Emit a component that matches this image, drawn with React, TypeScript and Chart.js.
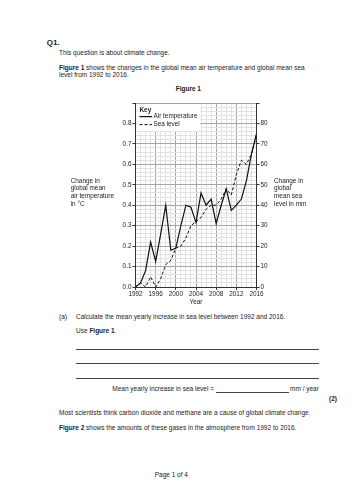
import React, { useEffect, useRef } from "react";
import { Chart, registerables } from "chart.js";

Chart.register(...registerables);

const years = [1992, 1993, 1994, 1995, 1996, 1997, 1998, 1999, 2000, 2001, 2002, 2003, 2004, 2005, 2006, 2007, 2008, 2009, 2010, 2011, 2012, 2013, 2014, 2015, 2016];
const airTemperature = [0.0, 0.02, 0.08, 0.22, 0.125, 0.26, 0.4, 0.18, 0.19, 0.3, 0.4, 0.39, 0.315, 0.46, 0.4, 0.43, 0.31, 0.4, 0.48, 0.375, 0.4, 0.43, 0.52, 0.65, 0.75];
const seaLevel = [0, 2, 0, 5, 0, 4, 11, 13, 19, 20, 24, 30, 32, 34, 38, 40, 40, 43, 48, 45, 55, 62, 60, 65, 74];
const seriesNames = ["Air temperature", "Sea level"];
const keyTitle = "Key";
const leftTitle = ["Change in", "global mean", "air temperature", "in °C"];
const rightTitle = ["Change in", "global", "mean sea", "level in mm"];
const xTitle = "Year";

const FONT = "'Liberation Sans', Arial, sans-serif";
const INK = "#222";
const MINOR = "#e2e2e2";
const MAJOR = "#a6a6a6";
const AXIS = "#333";
const CF = 6.4;

const isMult = (v: number, m: number) => Math.abs(v / m - Math.round(v / m)) < 1e-6;

const keyPlugin = {
  id: "keyBox",
  afterDatasetsDraw(chart: any) {
    const { ctx, chartArea } = chart;
    const l = chartArea.left;
    const t = chartArea.top;
    ctx.save();
    ctx.fillStyle = "#fff";
    ctx.fillRect(l + 1, t + 1, 64, 27);
    ctx.fillStyle = INK;
    ctx.textBaseline = "middle";
    ctx.textAlign = "left";
    ctx.font = `bold ${CF}px ${FONT}`;
    ctx.fillText(keyTitle, l + 4, t + 7);
    ctx.font = `${CF}px ${FONT}`;
    chart.data.datasets.forEach((ds: any, i: number) => {
      const y = t + 13.6 + i * 8;
      ctx.strokeStyle = ds.borderColor;
      ctx.lineWidth = ds.borderWidth;
      ctx.setLineDash(ds.borderDash || []);
      ctx.beginPath();
      ctx.moveTo(l + 4, y);
      ctx.lineTo(l + 16.5, y);
      ctx.stroke();
      ctx.setLineDash([]);
      ctx.fillText(ds.label, l + 18, y);
    });
    ctx.restore();
  },
};

const sideTitles = {
  id: "sideTitles",
  afterDraw(chart: any) {
    const { ctx, chartArea } = chart;
    ctx.save();
    ctx.fillStyle = INK;
    ctx.font = `${CF}px ${FONT}`;
    ctx.textBaseline = "middle";
    ctx.textAlign = "left";
    leftTitle.forEach((s, i) => ctx.fillText(s, chartArea.left - 64.8, chartArea.top + 78 + i * 7.7));
    rightTitle.forEach((s, i) => ctx.fillText(s, chartArea.right + 17.5, chartArea.top + 78 + i * 7.7));
    ctx.restore();
  },
};

function ChartBlock() {
  const ref = useRef<HTMLCanvasElement>(null);
  useEffect(() => {
    if (!ref.current) return;
    const tickFont = { family: FONT, size: CF };
    const chart = new Chart(ref.current, {
      type: "line",
      data: {
        datasets: [
          {
            label: seriesNames[0],
            data: years.map((x, i) => ({ x, y: airTemperature[i] })),
            borderColor: "#111",
            borderWidth: 1.2,
            pointRadius: 0,
            tension: 0,
            yAxisID: "y",
          },
          {
            label: seriesNames[1],
            data: years.map((x, i) => ({ x, y: seaLevel[i] })),
            borderColor: "#111",
            borderWidth: 1,
            borderDash: [3, 2],
            pointRadius: 0,
            tension: 0,
            yAxisID: "y1",
          },
        ],
      },
      options: {
        animation: false,
        responsive: true,
        maintainAspectRatio: false,
        layout: { padding: { top: 13, left: 0, right: 0, bottom: 0 } },
        plugins: { legend: { display: false }, tooltip: { enabled: false } },
        scales: {
          x: {
            type: "linear",
            min: 1992,
            max: 2016,
            afterFit: (s: any) => { s.height = 22; },
            ticks: {
              stepSize: 1,
              autoSkip: false,
              maxRotation: 0,
              padding: 0,
              color: INK,
              font: tickFont,
              callback: (v: any) => (isMult(Number(v) - 1992, 4) ? String(v) : ""),
            },
            grid: {
              color: (c: any) => (c.tick && isMult(c.tick.value - 1992, 4) ? MAJOR : MINOR),
              tickColor: (c: any) => (c.tick && isMult(c.tick.value - 1992, 4) ? AXIS : "rgba(0,0,0,0)"),
              tickLength: 3,
              lineWidth: 1,
            },
            border: { color: AXIS, width: 1 },
            title: { display: true, text: xTitle, color: INK, font: tickFont, padding: { top: 0, bottom: 2.7 } },
          },
          y: {
            type: "linear",
            position: "left",
            min: 0,
            max: 0.9,
            afterFit: (s: any) => { s.width = 135.5; },
            ticks: {
              stepSize: 0.02,
              autoSkip: false,
              padding: 1,
              color: INK,
              font: tickFont,
              callback: (v: any) => (isMult(Number(v), 0.1) && Number(v) < 0.85 ? Number(v).toFixed(1) : ""),
            },
            grid: {
              color: (c: any) => (c.tick && isMult(c.tick.value, 0.1) ? MAJOR : MINOR),
              tickColor: (c: any) => (c.tick && isMult(c.tick.value, 0.1) ? AXIS : "rgba(0,0,0,0)"),
              tickLength: 3,
              lineWidth: 1,
            },
            border: { color: AXIS, width: 1 },
          },
          y1: {
            type: "linear",
            position: "right",
            min: 0,
            max: 90,
            afterFit: (s: any) => { s.width = 96.5; },
            ticks: {
              stepSize: 2,
              autoSkip: false,
              padding: 1,
              color: INK,
              font: tickFont,
              callback: (v: any) => (isMult(Number(v), 10) && Number(v) < 85 ? String(v) : ""),
            },
            grid: {
              drawOnChartArea: false,
              tickColor: (c: any) => (c.tick && isMult(c.tick.value, 10) ? AXIS : "rgba(0,0,0,0)"),
              tickLength: 3,
            },
            border: { color: AXIS, width: 1 },
          },
        },
      },
      plugins: [keyPlugin, sideTitles],
    } as any);
    return () => chart.destroy();
  }, []);
  return (
    <div style={{ position: "absolute", left: 0, top: 90, width: 353, height: 219 }}>
      <canvas ref={ref} />
    </div>
  );
}

const T = (props: { x: number; y: number; size?: number; bold?: boolean; children: any }) => (
  <div
    style={{
      position: "absolute",
      left: props.x,
      top: props.y - 5,
      lineHeight: "10px",
      fontSize: (props.size || 6.5) + "px",
      fontWeight: props.bold ? "bold" : "normal",
      whiteSpace: "nowrap",
      color: INK,
    }}
  >
    {props.children}
  </div>
);

const Rule = (props: { x: number; y: number; w: number }) => (
  <div style={{ position: "absolute", left: props.x, top: props.y, width: props.w, height: 0, borderTop: "0.8px solid #444" }} />
);

export default function App() {
  return (
    <div style={{ position: "absolute", left: 0, top: 0, width: 353, height: 500, background: "#fff", overflow: "hidden", fontFamily: FONT }}>
      <T x={46.7} y={43.3} size={8} bold>Q1.</T>
      <T x={59} y={53.3}>This question is about climate change.</T>
      <T x={59} y={67.7}><b>Figure 1</b> shows the changes in the global mean air temperature and global mean sea</T>
      <T x={59} y={75.3}>level from 1992 to 2016.</T>
      <T x={175.7} y={88.7} size={6.5} bold>Figure 1</T>
      <ChartBlock />
      <T x={59} y={316.7}>(a)</T>
      <T x={76} y={316.7}>Calculate the mean yearly increase in sea level between 1992 and 2016.</T>
      <T x={76} y={331.3}>Use <b>Figure 1</b>.</T>
      <Rule x={76} y={349} w={243} />
      <Rule x={76} y={363} w={243} />
      <Rule x={76} y={378} w={243} />
      <T x={112.3} y={389.3}>Mean yearly increase in sea level =</T>
      <Rule x={216} y={391.8} w={73} />
      <T x={290} y={389.3}>mm / year</T>
      <T x={329} y={399} bold>(2)</T>
      <T x={59} y={413.3}>Most scientists think carbon dioxide and methane are a cause of global climate change.</T>
      <T x={59} y={427.7}><b>Figure 2</b> shows the amounts of these gases in the atmosphere from 1992 to 2016.</T>
      <T x={154.7} y={475.3}>Page 1 of 4</T>
    </div>
  );
}
